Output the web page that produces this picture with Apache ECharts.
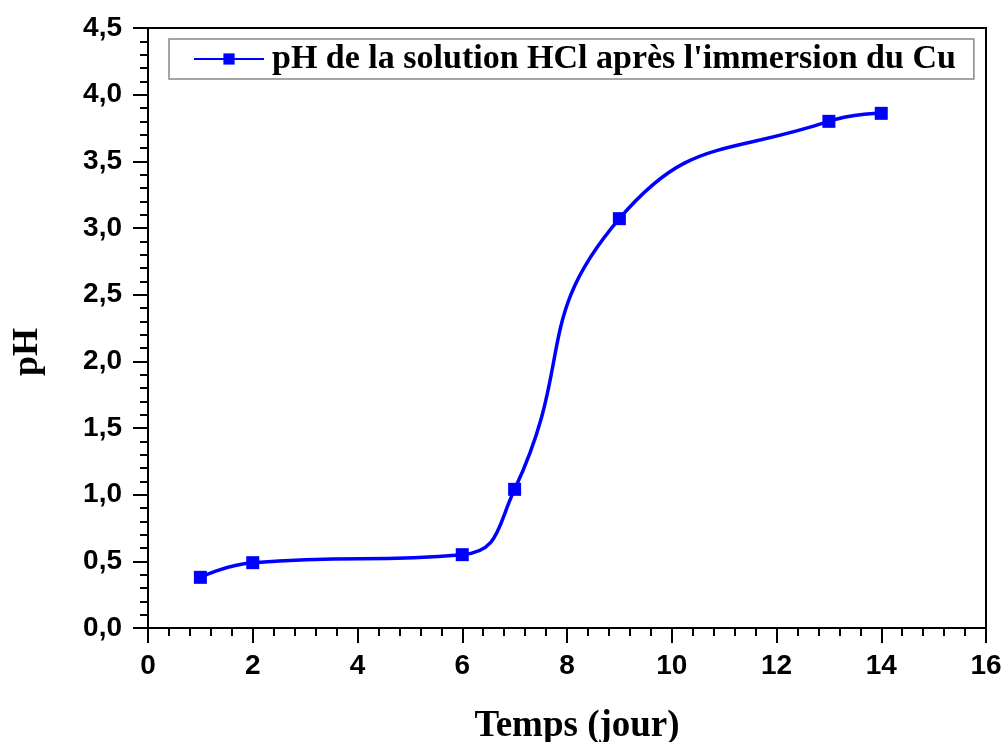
<!DOCTYPE html>
<html>
<head>
<meta charset="utf-8">
<script src="https://cdn.jsdelivr.net/npm/echarts@6/dist/echarts.min.js"></script>
<style>html,body{margin:0;padding:0;background:#fff;}#c{width:1006px;height:742px;}</style>
</head>
<body>
<div id="c"></div>
<script>
const days = [1, 2, 6, 7, 9, 13, 14];
const phValues = [0.38, 0.49, 0.55, 1.04, 3.07, 3.80, 3.86];
const seriesName = "pH de la solution HCl après l'immersion du Cu";
const xTitle = 'Temps (jour)';
const yTitle = 'pH';

const chart = echarts.init(document.getElementById('c'));
const axisFont = {fontFamily: "'Liberation Sans', Arial, sans-serif", fontWeight: 'bold', fontSize: 28, color: '#000'};
const serifBold = {fontFamily: "'Liberation Serif', 'Times New Roman', serif", fontWeight: 'bold', color: '#000'};
chart.setOption({
  animation: false,
  backgroundColor: '#fff',
  grid: {left: 148, right: 20, top: 28, bottom: 114, containLabel: false, outerBoundsMode: 'none',
         show: true, borderColor: '#000', borderWidth: 2, backgroundColor: 'transparent'},
  legend: {
    data: [seriesName],
    left: 169, top: 39,
    padding: [3, 18, 3, 24],
    borderColor: '#888', borderWidth: 1.5,
    itemWidth: 70, itemHeight: 14, itemGap: 4,
    textStyle: Object.assign({fontSize: 34, padding: [0, 0, 0, 3]}, serifBold)
  },
  graphic: [{
    type: 'text', left: 10, top: 328, rotation: Math.PI / 2,
    style: {text: yTitle, font: "bold 36px 'Liberation Serif', 'Times New Roman', serif", fill: '#000'}
  }],
  xAxis: {
    type: 'value', min: 0, max: 16, interval: 2,
    axisLine: {show: true, onZero: false, lineStyle: {color: '#000', width: 2}},
    axisTick: {show: true, length: 15, lineStyle: {color: '#000', width: 2}},
    minorTick: {show: true, splitNumber: 5, length: 8, lineStyle: {color: '#000', width: 2}},
    splitLine: {show: false},
    axisLabel: Object.assign({margin: 24}, axisFont),
    name: xTitle, nameLocation: 'middle', nameGap: 80,
    nameTextStyle: Object.assign({fontSize: 37, padding: [0, 0, 0, 20]}, serifBold)
  },
  yAxis: {
    type: 'value', min: 0, max: 4.5, interval: 0.5,
    axisLine: {show: true, onZero: false, lineStyle: {color: '#000', width: 2}},
    axisTick: {show: true, length: 15, lineStyle: {color: '#000', width: 2}},
    minorTick: {show: true, splitNumber: 5, length: 8, lineStyle: {color: '#000', width: 2}},
    splitLine: {show: false},
    axisLabel: Object.assign({margin: 26, formatter: v => v.toFixed(1).replace('.', ',')}, axisFont)
  },
  series: [{
    name: seriesName,
    type: 'line',
    data: days.map((d, i) => [d, phValues[i]]),
    smooth: 0.5,
    symbol: 'rect', symbolSize: 13,
    lineStyle: {color: '#0000ff', width: 3.5},
    itemStyle: {color: '#0000ff'}
  }]
});
</script>
</body>
</html>
